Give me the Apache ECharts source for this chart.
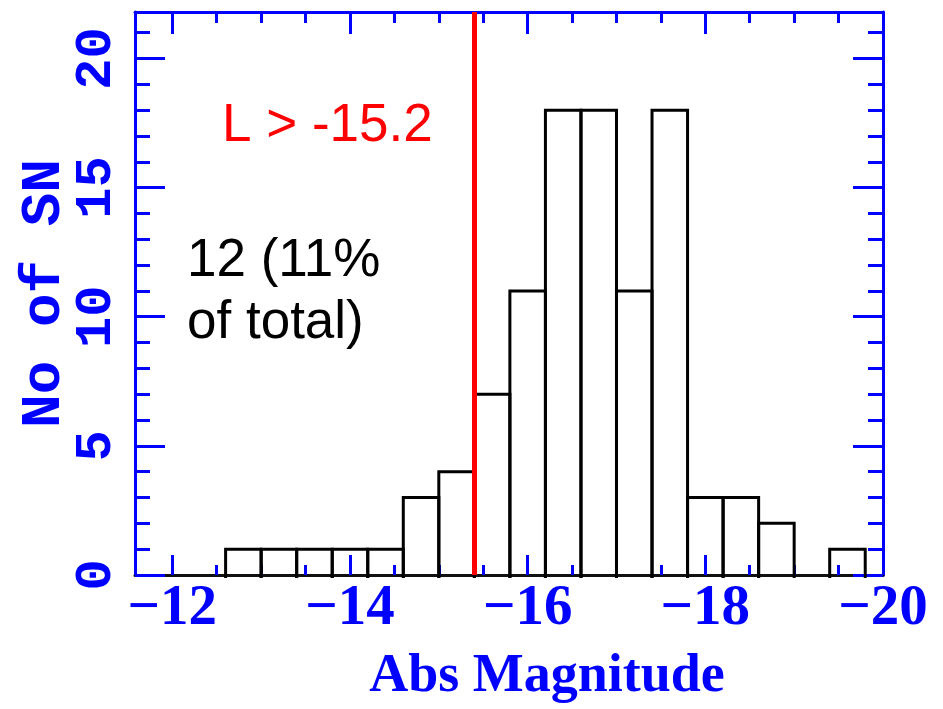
<!DOCTYPE html>
<html>
<head>
<meta charset="utf-8">
<script src="https://cdn.jsdelivr.net/npm/echarts@6/dist/echarts.min.js"></script>
<style>
html,body{margin:0;padding:0;background:#fff;}
#chart{width:943px;height:709px;}
</style>
</head>
<body>
<div id="chart"></div>
<script>
// ---- data ----
const binEdges = [-12.6, -13.0, -13.4, -13.8, -14.2, -14.6, -15.0, -15.4, -15.8, -16.2, -16.6, -17.0, -17.4, -17.8, -18.2, -18.6, -19.0, -19.4, -19.8];
const counts   = [1, 1, 1, 1, 1, 3, 4, 7, 11, 18, 18, 11, 18, 3, 3, 2, 0, 1];
const thresholdMag = -15.4;
const xTickValues = [-12, -14, -16, -18, -20];
const yTickValues = [0, 5, 10, 15, 20];
const xTitle = 'Abs Magnitude';
const yTitle = 'No of SN';
const cutLabel = 'L > -15.2';
const noteLabel = '12 (11%\nof total)';

const histData = counts.map((c, i) => [binEdges[i], binEdges[i + 1], c]);

const BLUE = '#0000ff';
const tickFont = "'Liberation Serif', 'DejaVu Serif', serif";
const yFont = "'Liberation Mono', 'DejaVu Sans Mono', monospace";

const chart = echarts.init(document.getElementById('chart'), null, {renderer: 'canvas'});

const xCommon = {
  type: 'value', min: -20, max: -11.58, inverse: true, interval: 2,
  splitLine: {show: false}
};
const yCommon = {
  type: 'value', min: 0, max: 21.8, interval: 5,
  splitLine: {show: false}
};

const option = {
  backgroundColor: '#fff',
  animation: false,
  grid: {left: 135, right: 60, top: 12, bottom: 134, containLabel: false},
  xAxis: [
    Object.assign({}, xCommon, {
      position: 'bottom',
      axisLine: {show: true, onZero: false, lineStyle: {color: '#111', width: 3}},
      axisTick: {show: true, inside: true, length: 20, lineStyle: {color: BLUE, width: 3}},
      minorTick: {show: true, splitNumber: 4, length: 10, lineStyle: {color: BLUE, width: 3}},
      axisLabel: {
        show: true, margin: 6, color: BLUE, fontSize: 57, fontWeight: 'bold',
        fontFamily: tickFont,
        formatter: v => xTickValues.some(t => Math.abs(t - v) < 1e-6) ? '\u2212' + Math.abs(v) : ''
      },
      name: xTitle, nameLocation: 'middle', nameGap: 75, nameMoveOverlap: false,
      nameTextStyle: {color: BLUE, fontSize: 54, fontWeight: 'bold', fontFamily: tickFont, padding: [0, 0, 0, 76]}
    }),
    Object.assign({}, xCommon, {
      position: 'top',
      axisLine: {show: true, onZero: false, lineStyle: {color: BLUE, width: 3}},
      axisTick: {show: true, inside: true, length: 22, lineStyle: {color: BLUE, width: 3}},
      minorTick: {show: true, splitNumber: 4, length: 11, lineStyle: {color: BLUE, width: 3}},
      axisLabel: {show: false}
    })
  ],
  yAxis: [
    Object.assign({}, yCommon, {
      position: 'left',
      axisLine: {show: true, onZero: false, lineStyle: {color: BLUE, width: 3}},
      axisTick: {show: true, inside: true, length: 30, lineStyle: {color: BLUE, width: 3}},
      minorTick: {show: true, splitNumber: 5, length: 15, lineStyle: {color: BLUE, width: 3}},
      axisLabel: {
        show: true, rotate: 90, margin: 12, color: BLUE, fontSize: 52, fontWeight: 'bold',
        fontFamily: yFont,
        formatter: v => yTickValues.some(t => Math.abs(t - v) < 1e-6) ? String(v) : ''
      },
      name: yTitle, nameLocation: 'middle', nameRotate: 90, nameGap: 62, nameMoveOverlap: false,
      nameTextStyle: {color: BLUE, fontSize: 56, fontWeight: 'bold', fontFamily: yFont}
    }),
    Object.assign({}, yCommon, {
      position: 'right',
      axisLine: {show: true, onZero: false, lineStyle: {color: BLUE, width: 3}},
      axisTick: {show: true, inside: true, length: 30, lineStyle: {color: BLUE, width: 3}},
      minorTick: {show: true, splitNumber: 5, length: 15, lineStyle: {color: BLUE, width: 3}},
      axisLabel: {show: false}
    })
  ],
  series: [
    {
      type: 'custom',
      xAxisIndex: 0, yAxisIndex: 0,
      data: histData,
      renderItem: function (params, api) {
        const c = api.value(2);
        if (!c) return null;
        const pTop = api.coord([api.value(0), c]);
        const pBot = api.coord([api.value(1), 0]);
        return {
          type: 'polyline',
          shape: {points: [[pTop[0], pBot[1] + 3], [pTop[0], pTop[1]], [pBot[0], pTop[1]], [pBot[0], pBot[1] + 3]]},
          style: {stroke: '#000', lineWidth: 3, fill: null}
        };
      },
      z: 3,
      markLine: {
        silent: true, symbol: 'none', animation: false,
        label: {show: false},
        lineStyle: {color: '#ff0000', width: 5, type: 'solid'},
        data: [{xAxis: thresholdMag}]
      }
    }
  ],
  graphic: [
    {type: 'text', left: 222, top: 100, z: 10,
     style: {text: cutLabel, fill: '#ff0000', fontSize: 53, fontFamily: "'Liberation Sans', Arial, sans-serif"}},
    {type: 'text', left: 187, top: 230, z: 10,
     style: {text: noteLabel, fill: '#000', fontSize: 53, lineHeight: 62, fontFamily: "'Liberation Sans', Arial, sans-serif"}}
  ]
};
chart.setOption(option);
</script>
</body>
</html>
